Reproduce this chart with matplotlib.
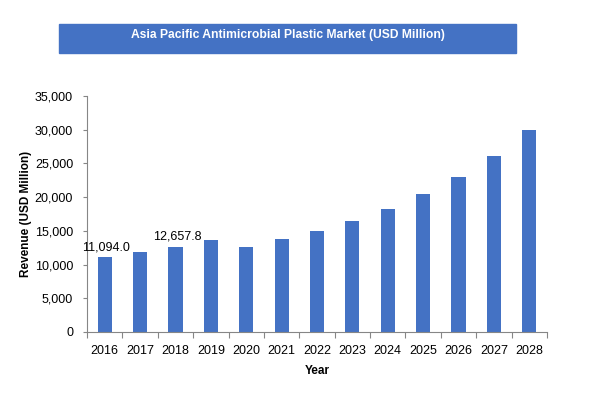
import matplotlib.pyplot as plt
from matplotlib.patches import Rectangle

plt.rcParams["font.family"] = ["Liberation Sans", "DejaVu Sans"]

years = ["2016", "2017", "2018", "2019", "2020", "2021", "2022",
         "2023", "2024", "2025", "2026", "2027", "2028"]
revenue = [11094.0, 11870, 12657.8, 13660, 12620, 13810, 14990,
           16470, 18250, 20470, 22980, 26090, 29940]
labeled = {0: "11,094.0", 2: "12,657.8"}

BLUE = "#4472C4"
GRAY = "#868686"

fig = plt.figure(figsize=(5.95, 3.95), dpi=100)
ax = fig.add_axes([87 / 595, 1 - 332 / 395, (547 - 87) / 595, (332 - 96) / 395])

x = list(range(len(years)))
ax.bar(x, revenue, width=0.4, color=BLUE)
for i, txt in labeled.items():
    ax.annotate(txt, (x[i], revenue[i]), xytext=(1, 3), textcoords="offset points",
                ha="center", va="bottom", fontsize=9)

ax.set_xlim(-0.5, len(years) - 0.5)
ax.set_ylim(0, 35000)
ax.set_yticks(range(0, 35001, 5000))
ax.set_yticklabels([f"{v:,}" for v in range(0, 35001, 5000)], fontsize=9)
ax.set_xticks([i - 0.5 for i in range(len(years) + 1)])
ax.set_xticklabels([])
ax.set_xticks(x, minor=True)
ax.set_xticklabels(years, minor=True, fontsize=9)
ax.tick_params(axis="x", which="major", length=4, color=GRAY)
ax.tick_params(axis="x", which="minor", length=0, pad=9)
ax.tick_params(axis="y", length=3, color=GRAY, pad=7)

for s in ("top", "right"):
    ax.spines[s].set_visible(False)
for s in ("left", "bottom"):
    ax.spines[s].set_color(GRAY)

ax.set_xlabel("Year", fontsize=8.5, fontweight="bold", labelpad=6)
ax.set_ylabel("Revenue (USD Million)", fontsize=8.5, fontweight="bold", labelpad=2)

# title banner
fig.patches.append(Rectangle((59 / 595, 1 - 52.5 / 395), (516 - 59) / 595, 28.5 / 395,
                             transform=fig.transFigure, color=BLUE))
fig.text(288 / 595, 1 - 35 / 395, "Asia Pacific Antimicrobial Plastic Market (USD Million)",
         ha="center", va="center", color="white", fontsize=8.7, fontweight="bold")

fig.savefig("out.png", dpi=100)
